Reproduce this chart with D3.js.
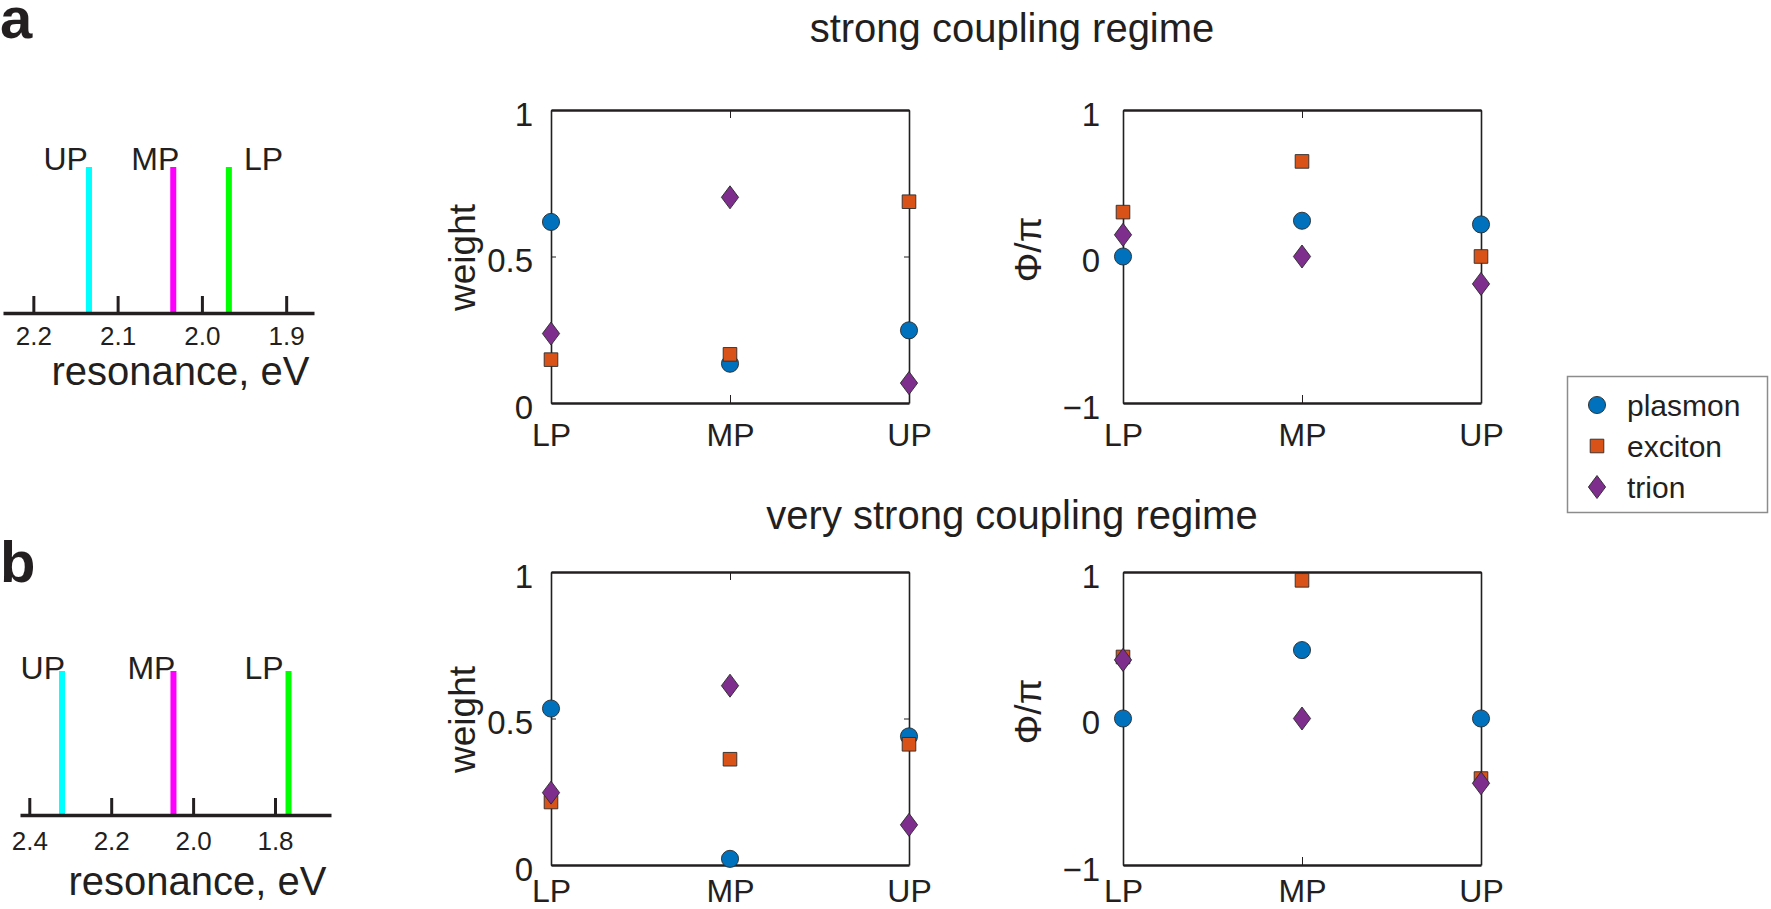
<!DOCTYPE html>
<html>
<head>
<meta charset="utf-8">
<title>coupling regimes</title>
<script src="https://d3js.org/d3.v7.min.js"></script>
<style>
  body { margin: 0; background: #fff; }
  svg text { font-family: "Liberation Sans", Arial, sans-serif; fill: #231f20; }
</style>
</head>
<body>
<div id="chart"></div>
<script>
// polariton branches and mode components
var polaritons = ["LP", "MP", "UP"];
var components = ["plasmon", "exciton", "trion"];
var compColors = ["#0072bd", "#d95319", "#7e2f8e"];

// strong coupling regime
var weightStrongPlasmon = [0.618, 0.134, 0.248];
var weightStrongExciton = [0.148, 0.166, 0.687];
var weightStrongTrion = [0.237, 0.702, 0.068];
var phaseStrongPlasmon = [0.0, 0.244, 0.219];
var phaseStrongExciton = [0.303, 0.649, 0.0];
var phaseStrongTrion = [0.148, 0.0, -0.187];

// very strong coupling regime
var weightVeryPlasmon = [0.534, 0.021, 0.439];
var weightVeryExciton = [0.215, 0.361, 0.412];
var weightVeryTrion = [0.247, 0.612, 0.137];
var phaseVeryPlasmon = [0.0, 0.467, 0.0];
var phaseVeryExciton = [0.42, 0.943, -0.41];
var phaseVeryTrion = [0.40, 0.0, -0.442];

// resonance positions (eV)
var modes = ["UP", "MP", "LP"];
var modeColors = ["#00ffff", "#ff00ff", "#00ff00"];
var resonanceStrong = [2.134, 2.034, 1.968];
var resonanceVery = [2.320, 2.048, 1.767];
var resTicksStrong = [2.2, 2.1, 2.0, 1.9];
var resTicksVery = [2.4, 2.2, 2.0, 1.8];

var weightTicks = [0, 0.5, 1];
var phaseTicks = [-1, 0, 1];

var W = 1771, H = 909;
var ink = "#231f20";

var svg = d3.select("#chart").append("svg")
  .attr("width", W)
  .attr("height", H);

// panel letters + titles
svg.append("text").attr("x", 0).attr("y", 38)
  .attr("font-size", 58).attr("font-weight", "bold").text("a");
svg.append("text").attr("x", 0).attr("y", 582)
  .attr("font-size", 58).attr("font-weight", "bold").text("b");
svg.append("text").attr("x", 1012).attr("y", 42)
  .attr("text-anchor", "middle").attr("font-size", 40).text("strong coupling regime");
svg.append("text").attr("x", 1012).attr("y", 529)
  .attr("text-anchor", "middle").attr("font-size", 40).text("very strong coupling regime");

function styleAxis(g, fs) {
  g.attr("color", ink)
    .attr("font-size", fs)
    .attr("font-family", null);
}

function drawSpectrum(cfg) {
  var x = d3.scaleLinear().domain(cfg.domain).range([cfg.x0, cfg.x1]);
  var y = d3.scaleLinear().domain([0, 1]).range([cfg.base, cfg.top]);

  var g = svg.append("g");

  g.selectAll("line.res")
    .data(cfg.values)
    .enter().append("line")
    .attr("class", "res")
    .attr("x1", function(d) { return x(d); })
    .attr("x2", function(d) { return x(d); })
    .attr("y1", y(0))
    .attr("y2", y(1))
    .attr("stroke", function(d, i) { return modeColors[i]; })
    .attr("stroke-width", 6);

  g.selectAll("text.mode")
    .data(cfg.values)
    .enter().append("text")
    .attr("class", "mode")
    .attr("x", function(d, i) { return x(d) + cfg.labelDx[i]; })
    .attr("y", y(1) + cfg.labelDy)
    .attr("text-anchor", function(d, i) { return cfg.labelAnchor[i]; })
    .attr("font-size", 32)
    .text(function(d, i) { return modes[i]; });

  var ax = g.append("g")
    .attr("transform", "translate(0," + cfg.base + ")")
    .call(d3.axisBottom(x)
      .tickValues(cfg.ticks)
      .tickFormat(d3.format(".1f"))
      .tickSizeInner(-17)
      .tickSizeOuter(0)
      .tickPadding(cfg.tickPad));
  styleAxis(ax, 26);
  ax.select(".domain").attr("stroke-width", 3.5);
  ax.selectAll(".tick line").attr("stroke-width", 3);

  g.append("text")
    .attr("x", (cfg.x0 + cfg.x1) / 2 + 22)
    .attr("y", cfg.labelBase)
    .attr("text-anchor", "middle")
    .attr("font-size", 40)
    .text("resonance, eV");
}

var diamond = {
  draw: function(ctx, size) {
    var h = 11.5, w = 8.6;
    ctx.moveTo(0, -h);
    ctx.lineTo(w, 0);
    ctx.lineTo(0, h);
    ctx.lineTo(-w, 0);
    ctx.closePath();
  }
};
var shapes = [
  d3.symbol().type(d3.symbolCircle).size(230),
  d3.symbol().type(d3.symbolSquare).size(185),
  d3.symbol().type(diamond)
];

function drawScatter(cfg) {
  var x = d3.scalePoint().domain(polaritons).range([0, cfg.width]).padding(0);
  var y = d3.scaleLinear().domain(cfg.yDomain).range([cfg.height, 0]);

  var g = svg.append("g")
    .attr("transform", "translate(" + cfg.left + "," + cfg.top + ")");

  var bottom = g.append("g")
    .attr("transform", "translate(0," + cfg.height + ")")
    .call(d3.axisBottom(x).tickSizeInner(-8).tickSizeOuter(0).tickPadding(cfg.xPad));
  styleAxis(bottom, 32);
  bottom.select(".domain").attr("stroke-width", 2.5);

  var top = g.append("g")
    .call(d3.axisTop(x).tickSizeInner(-8).tickSizeOuter(0).tickFormat(""));
  styleAxis(top, 32);
  top.select(".domain").attr("stroke-width", 2.5);

  var left = g.append("g")
    .call(d3.axisLeft(y).tickValues(cfg.yTicks).tickFormat(d3.format("~g"))
      .tickSizeInner(-5).tickSizeOuter(0).tickPadding(cfg.yPad));
  styleAxis(left, 33);
  left.select(".domain").attr("stroke-width", 1.6);
  left.selectAll(".tick text").attr("dy", "0.46em");

  var right = g.append("g")
    .attr("transform", "translate(" + cfg.width + ",0)")
    .call(d3.axisRight(y).tickValues(cfg.yTicks).tickFormat("")
      .tickSizeInner(-5).tickSizeOuter(0));
  styleAxis(right, 33);
  right.select(".domain").attr("stroke-width", 1.6);

  g.append("text")
    .attr("transform", "translate(" + cfg.ylabelX + "," + (cfg.height / 2 + cfg.ylabelDy) + ") rotate(-90)")
    .attr("text-anchor", "middle")
    .attr("font-size", 37)
    .text(cfg.ylabel);

  cfg.series.forEach(function(vals, k) {
    g.append("g").selectAll("path")
      .data(vals)
      .enter().append("path")
      .attr("d", shapes[k])
      .attr("transform", function(d, i) {
        return "translate(" + x(polaritons[i]) + "," + y(d) + ")";
      })
      .attr("fill", compColors[k])
      .attr("stroke", "#2a2a2a")
      .attr("stroke-width", 0.9);
  });
}

drawSpectrum({
  domain: [2.236, 1.867], x0: 3, x1: 314,
  base: 313, top: 167, values: resonanceStrong, ticks: resTicksStrong,
  labelDx: [-1, 6, 15], labelAnchor: ["end", "end", "start"], labelDy: 3,
  tickPad: 14, labelBase: 385
});
drawSpectrum({
  domain: [2.4227, 1.6633], x0: 20, x1: 331,
  base: 815, top: 671, values: resonanceVery, ticks: resTicksVery,
  labelDx: [3, 2, -5], labelAnchor: ["end", "end", "end"], labelDy: 8,
  tickPad: 17, labelBase: 895
});

drawScatter({
  left: 551, top: 110, width: 358, height: 293,
  yDomain: [0, 1], yTicks: weightTicks, yPad: 18, xPad: 20,
  ylabel: "weight", ylabelX: -76, ylabelDy: 1,
  series: [weightStrongPlasmon, weightStrongExciton, weightStrongTrion]
});
drawScatter({
  left: 1123, top: 110, width: 358, height: 293,
  yDomain: [-1, 1], yTicks: phaseTicks, yPad: 23, xPad: 20,
  ylabel: "\u03a6/\u03c0", ylabelX: -82, ylabelDy: -7,
  series: [phaseStrongPlasmon, phaseStrongExciton, phaseStrongTrion]
});
drawScatter({
  left: 551, top: 572, width: 358, height: 293,
  yDomain: [0, 1], yTicks: weightTicks, yPad: 18, xPad: 14,
  ylabel: "weight", ylabelX: -76, ylabelDy: 1,
  series: [weightVeryPlasmon, weightVeryExciton, weightVeryTrion]
});
drawScatter({
  left: 1123, top: 572, width: 358, height: 293,
  yDomain: [-1, 1], yTicks: phaseTicks, yPad: 23, xPad: 14,
  ylabel: "\u03a6/\u03c0", ylabelX: -82, ylabelDy: -7,
  series: [phaseVeryPlasmon, phaseVeryExciton, phaseVeryTrion]
});

// legend
var legend = svg.append("g").attr("transform", "translate(1567,376)");
legend.append("rect")
  .attr("x", 0.5).attr("y", 0.5)
  .attr("width", 200).attr("height", 136)
  .attr("fill", "#fff")
  .attr("stroke", "#8c8c8c")
  .attr("stroke-width", 1.5);

var items = legend.selectAll("g.item")
  .data(components)
  .enter().append("g")
  .attr("class", "item")
  .attr("transform", function(d, i) { return "translate(30," + (29 + i * 41) + ")"; });

items.append("path")
  .attr("d", function(d, i) { return shapes[i](); })
  .attr("fill", function(d, i) { return compColors[i]; })
  .attr("stroke", "#2a2a2a")
  .attr("stroke-width", 0.9);

items.append("text")
  .attr("x", 30)
  .attr("dy", "0.35em")
  .attr("font-size", 30)
  .text(function(d) { return d; });
</script>
</body>
</html>
